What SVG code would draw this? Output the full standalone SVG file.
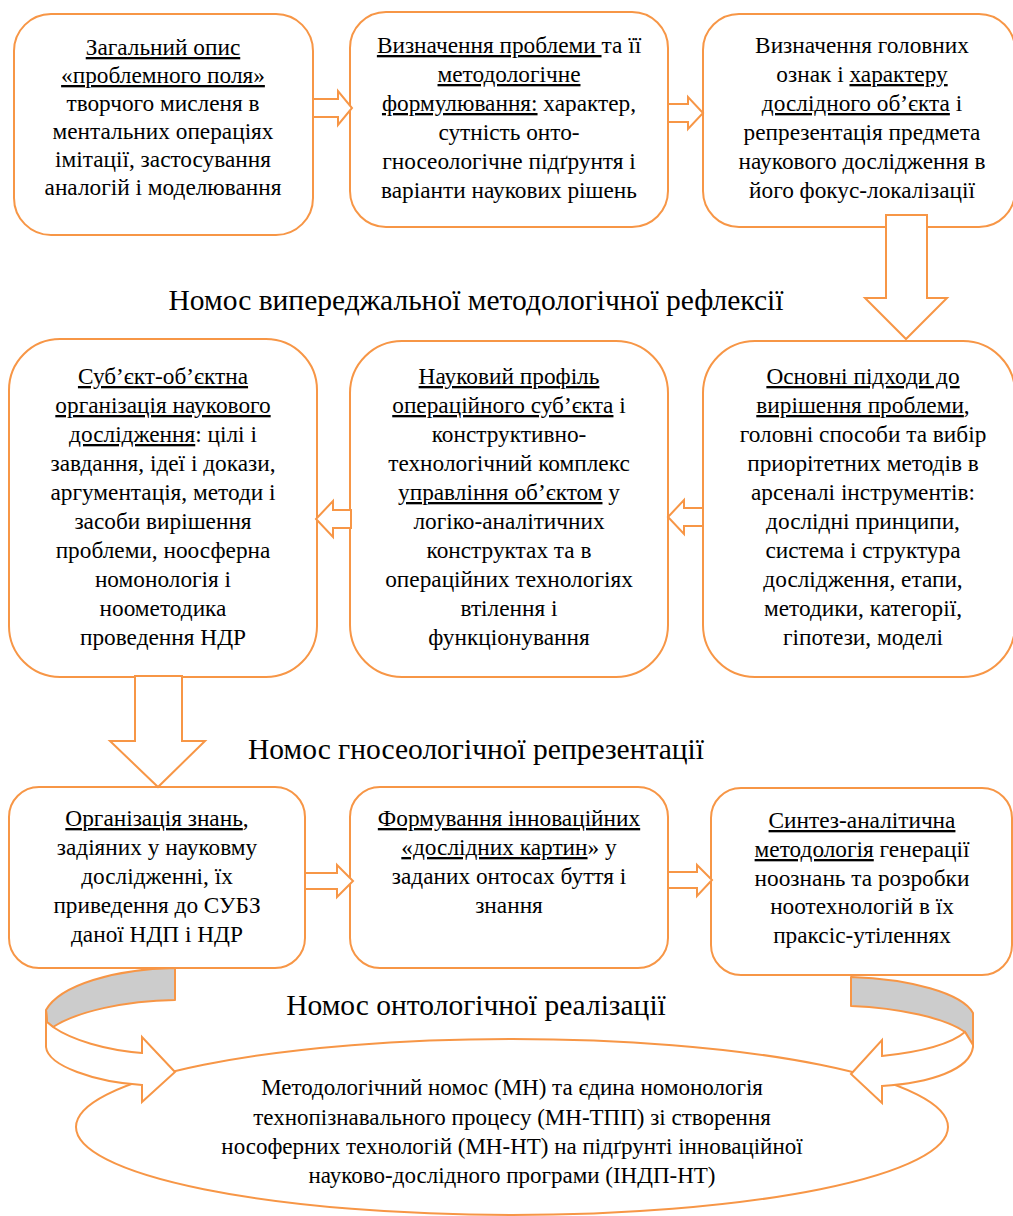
<svg xmlns="http://www.w3.org/2000/svg" width="1013" height="1216" viewBox="0 0 1013 1216">
<style>
.box{fill:#fff;stroke:#F79646;stroke-width:2}
.arr{fill:#fff;stroke:#F79646;stroke-width:2;stroke-linejoin:miter}
.band{fill:#CCCCCC;stroke:#F79646;stroke-width:2;stroke-linejoin:round}
.face{fill:#fff;stroke:#F79646;stroke-width:2;stroke-linejoin:miter}
text{font-family:"Liberation Serif","DejaVu Serif",serif;fill:#000}
.t{font-size:23.3px;text-anchor:middle}
.e{font-size:23px;text-anchor:middle}
.h{font-size:29.5px;text-anchor:middle}
.u{text-decoration:underline}
</style>
<rect width="1013" height="1216" fill="#fff"/>

<g id="title1"><text class="h" x="476" y="310">Номос випереджальної методологічної рефлексії</text></g>
<g id="title2"><text class="h" x="476" y="759">Номос гносеологічної репрезентації</text></g>
<g id="title3"><text class="h" x="476" y="1015">Номос онтологічної реалізації</text></g>

<g id="node1">
<rect class="box" x="14" y="14" width="299" height="221" rx="37"/>
<text class="t" x="163" y="55"><tspan class="u">Загальний опис</tspan></text>
<text class="t" x="163" y="83"><tspan class="u">«проблемного поля»</tspan></text>
<text class="t" x="163" y="111">творчого мисленя в</text>
<text class="t" x="163" y="139">ментальних операціях</text>
<text class="t" x="163" y="167">імітації, застосування</text>
<text class="t" x="163" y="195">аналогій і моделювання</text>
</g>

<g id="node2">
<rect class="box" x="350" y="12" width="318" height="215" rx="36"/>
<text class="t" x="509" y="53"><tspan class="u">Визначення проблеми </tspan>та її</text>
<text class="t" x="509" y="82"><tspan class="u">методологічне</tspan></text>
<text class="t" x="509" y="111"><tspan class="u">формулювання:</tspan> характер,</text>
<text class="t" x="509" y="140">сутність онто-</text>
<text class="t" x="509" y="169">гносеологічне підґрунтя і</text>
<text class="t" x="509" y="198">варіанти наукових рішень</text>
</g>

<g id="node3">
<rect class="box" x="703" y="14" width="312" height="213" rx="36"/>
<text class="t" x="862" y="53">Визначення головних</text>
<text class="t" x="862" y="82">ознак і <tspan class="u">характеру</tspan></text>
<text class="t" x="862" y="111"><tspan class="u">дослідного об’єкта</tspan> і</text>
<text class="t" x="862" y="140">репрезентація предмета</text>
<text class="t" x="862" y="169">наукового дослідження в</text>
<text class="t" x="862" y="198">його фокус-локалізації</text>
</g>

<g id="node4">
<rect class="box" x="9" y="339" width="308" height="338" rx="51"/>
<text class="t" x="163" y="384"><tspan class="u">Суб’єкт-об’єктна</tspan></text>
<text class="t" x="163" y="413"><tspan class="u">організація наукового</tspan></text>
<text class="t" x="163" y="442"><tspan class="u">дослідження</tspan>: цілі і</text>
<text class="t" x="163" y="471">завдання, ідеї і докази,</text>
<text class="t" x="163" y="500">аргументація, методи і</text>
<text class="t" x="163" y="529">засоби вирішення</text>
<text class="t" x="163" y="558">проблеми, ноосферна</text>
<text class="t" x="163" y="587">номонологія і</text>
<text class="t" x="163" y="616">ноометодика</text>
<text class="t" x="163" y="645">проведення НДР</text>
</g>

<g id="node5">
<rect class="box" x="350" y="341" width="318" height="336" rx="52"/>
<text class="t" x="509" y="384"><tspan class="u">Науковий профіль</tspan></text>
<text class="t" x="509" y="413"><tspan class="u">операційного суб’єкта</tspan> і</text>
<text class="t" x="509" y="442">конструктивно-</text>
<text class="t" x="509" y="471">технологічний комплекс</text>
<text class="t" x="509" y="500"><tspan class="u">управління об’єктом</tspan> у</text>
<text class="t" x="509" y="529">логіко-аналітичних</text>
<text class="t" x="509" y="558">конструктах та в</text>
<text class="t" x="509" y="587">операційних технологіях</text>
<text class="t" x="509" y="616">втілення і</text>
<text class="t" x="509" y="645">функціонування</text>
</g>

<g id="node6">
<rect class="box" x="703" y="341" width="312" height="336" rx="52"/>
<text class="t" x="863" y="384"><tspan class="u">Основні підходи до</tspan></text>
<text class="t" x="863" y="413"><tspan class="u">вирішення проблеми</tspan>,</text>
<text class="t" x="863" y="442">головні способи та вибір</text>
<text class="t" x="863" y="471">приорітетних методів в</text>
<text class="t" x="863" y="500">арсеналі інструментів:</text>
<text class="t" x="863" y="529">дослідні принципи,</text>
<text class="t" x="863" y="558">система і структура</text>
<text class="t" x="863" y="587">дослідження, етапи,</text>
<text class="t" x="863" y="616">методики, категорії,</text>
<text class="t" x="863" y="645">гіпотези, моделі</text>
</g>

<g id="node7">
<rect class="box" x="9" y="787" width="296" height="181" rx="30"/>
<text class="t" x="157" y="826"><tspan class="u">Організація знань</tspan>,</text>
<text class="t" x="157" y="855">задіяних у науковму</text>
<text class="t" x="157" y="884">дослідженні, їх</text>
<text class="t" x="157" y="913">приведення до СУБЗ</text>
<text class="t" x="157" y="942">даної НДП і НДР</text>
</g>

<g id="node8">
<rect class="box" x="350" y="787" width="318" height="181" rx="30"/>
<text class="t" x="509" y="826"><tspan class="u">Формування інноваційних</tspan></text>
<text class="t" x="509" y="855"><tspan class="u">«дослідних картин</tspan>» у</text>
<text class="t" x="509" y="884">заданих онтосах буття і</text>
<text class="t" x="509" y="913">знання</text>
</g>

<g id="node9">
<rect class="box" x="711" y="788" width="301" height="187" rx="30"/>
<text class="t" x="862" y="828"><tspan class="u">Синтез-аналітична</tspan></text>
<text class="t" x="862" y="857"><tspan class="u">методологія</tspan> генерації</text>
<text class="t" x="862" y="886">ноознань та розробки</text>
<text class="t" x="862" y="914">ноотехнологій в їх</text>
<text class="t" x="862" y="943">праксіс-утіленнях</text>
</g>

<g id="node10">
<ellipse class="box" cx="512" cy="1127" rx="436" ry="88"/>
<text class="e" x="512" y="1095">Методологічний номос (МН) та єдина номонологія</text>
<text class="e" x="512" y="1125">технопізнавального процесу (МН-ТПП) зі створення</text>
<text class="e" x="512" y="1154">нософерних технологій (МН-НТ) на підґрунті інноваційної</text>
<text class="e" x="512" y="1183">науково-дослідного програми (ІНДП-НТ)</text>
</g>

<g id="connectors">
<path class="arr" d="M313,99 H338 V91 L352,108 L338,125 V117 H313 Z"/>
<path class="arr" d="M668,104 H688 V97 L703,113 L688,129 V122 H668 Z"/>
<path class="arr" d="M886,215 V298 H865 L906,339 L947,298 H927 V215 Z"/>
<path class="arr" d="M703,508 H684 V500 L668,517 L684,534 V526 H703 Z"/>
<path class="arr" d="M351,510 H333 V501 L316,519 L333,537 V528 H351 Z"/>
<path class="arr" d="M135,676 V741 H110 L158,787 L205,741 H182 V676 Z"/>
<path class="arr" d="M305,873 H337 V865 L353,881 L337,897 V889 H305 Z"/>
<path class="arr" d="M668,872 H697 V865 L712,880 L697,896 V888 H668 Z"/>
<path class="band" d="M175,968 C115,969 60,985 46,1010 L47,1022 L53,1027 C78,1011 125,1001 175,1000 Z"/>
<path class="face" d="M46,1010 L46,1047 C48,1066 95,1082 142,1085 L142,1102 L175,1072 L142,1037 L142,1053 C105,1050 72,1040 53,1027 L47,1022 Z"/>
<path class="band" d="M851,977 C910,979 962,993 973,1013 L973,1045 L965,1032 C945,1018 900,1008 851,1006 Z"/>
<path class="face" d="M965,1032 L973,1045 L973,1047 C970,1070 930,1083 882,1086 L882,1103 L851,1074 L882,1040 L882,1056 C920,1052 950,1045 965,1032 Z"/>
</g>
</svg>
